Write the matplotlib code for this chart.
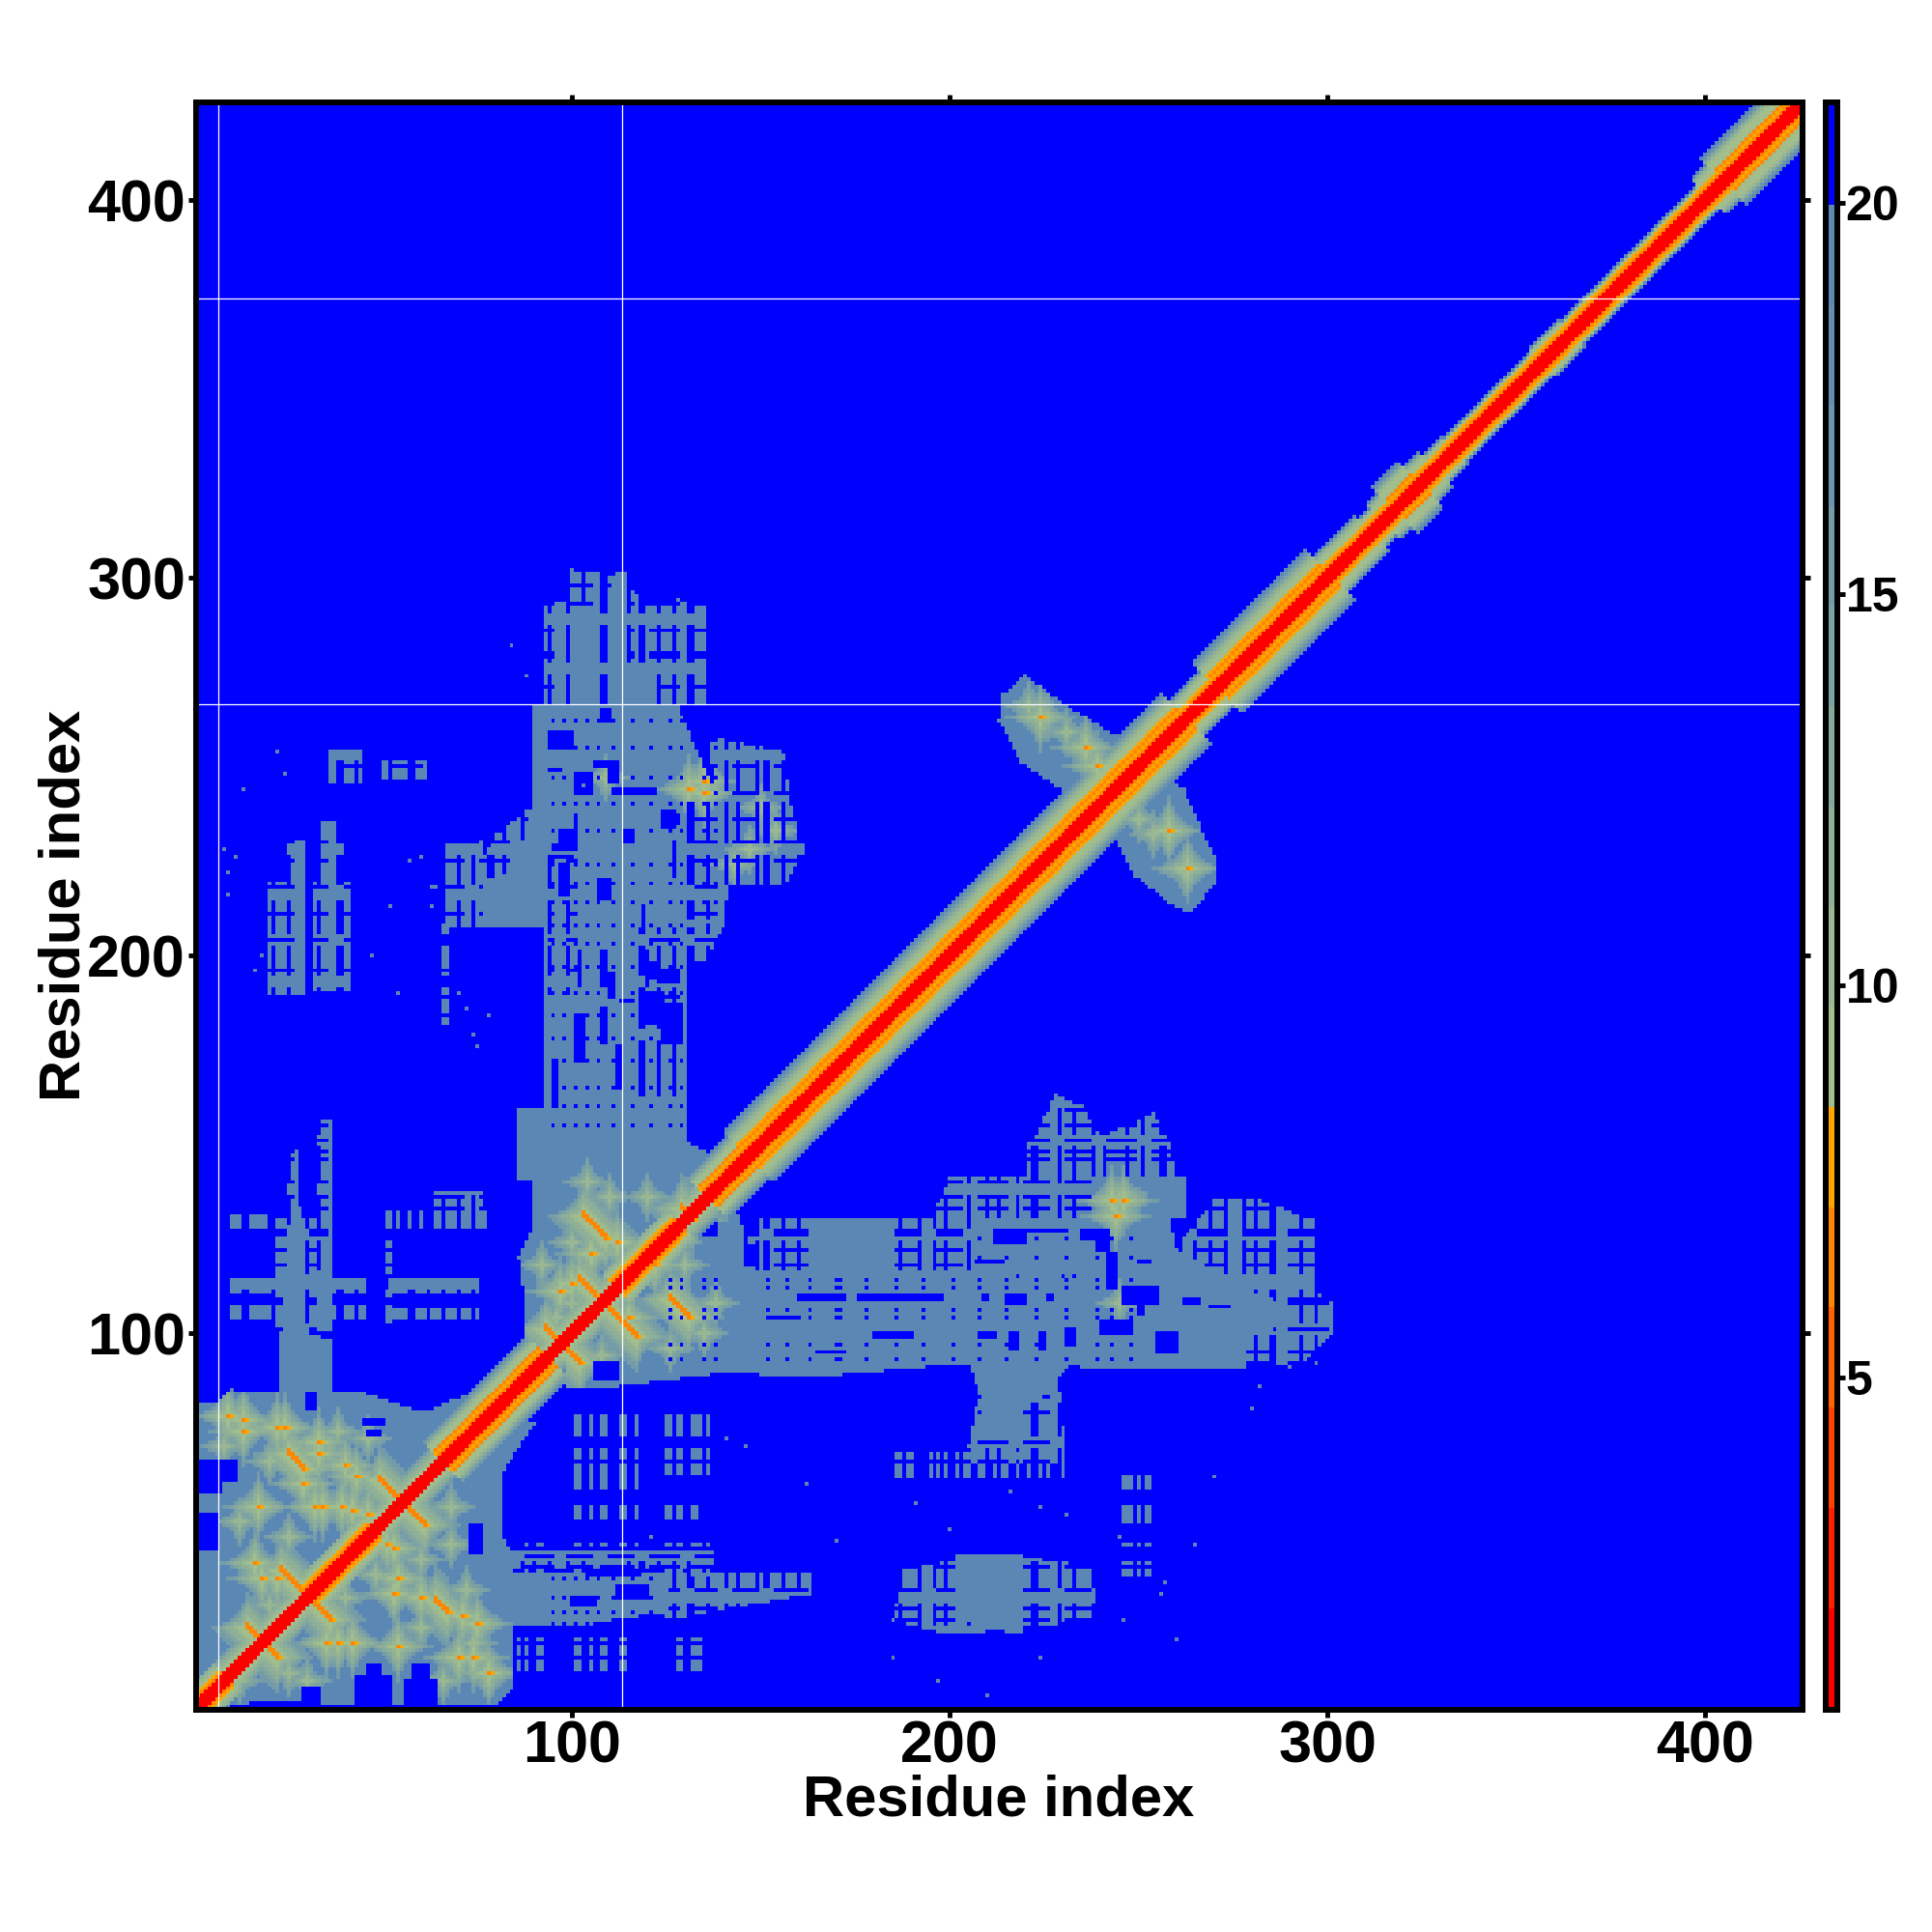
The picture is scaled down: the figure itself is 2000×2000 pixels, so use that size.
import numpy as np
import matplotlib
matplotlib.use('Agg')
import matplotlib.pyplot as plt
from matplotlib.colors import ListedColormap, BoundaryNorm
from matplotlib.path import Path

plt.rcParams['font.family'] = ['Liberation Sans', 'DejaVu Sans']
plt.rcParams['font.weight'] = 'bold'

n_res = 425
ticks_main = [100, 200, 300, 400]
ticks_bar = [5, 10, 15, 20]
levels = [0.75, 2.05, 3.33, 4.61, 5.89, 7.17, 8.45, 9.73, 11.01, 12.29, 13.57,
          14.85, 16.13, 17.41, 18.69, 19.97, 21.29]
colors = ['#FF0000', '#FF2100', '#FF4200', '#FF6300', '#FF8600', '#FFA500',
          '#A1BE8C', '#98B792', '#8FB097', '#86A99D', '#7DA2A3', '#749BA8',
          '#6B94AE', '#638DB2', '#5B87B5', '#0000FF']

# white gaps seen in the map
gap_cols = [6.3, 113.4]
gap_rows = [373.9, 266.6]

# distance values across the diagonal, by offset from it
profiles = {
    'narrow': [1.2, 1.2, 1.5, 6.5, 8.0, 9.5, 19],
    'neck': [1.2, 1.2, 1.5, 6.5, 7.8, 8.6, 10, 19],
    'dom': [1.2, 1.2, 1.5, 8.8, 10, 11.5, 13, 15, 19],
    'mid': [1.2, 1.2, 1.5, 6.5, 7.8, 8.6, 10, 12, 19],
    'lite': [1.2, 1.2, 1.5, 6.5, 7.8, 6.5, 8.6, 9.5, 11, 13, 16, 19],
    'edge': [1.2, 1.2, 1.5, 6.5, 7.8, 8.6, 9.5, 11, 13, 19],
    'blob': [1.2, 1.2, 1.5, 6.5, 7.8, 6.5, 8.6, 8.8, 9.5, 11, 13, 17, 19],
    'wide': [1.2, 1.2, 1.5, 6.5, 7.8, 6.5, 7.8, 8.6, 9.5, 10.5, 12, 14, 17, 19],
}
band_segments = [
    (1, 8, 'mid'), (9, 30, 'dom'), (31, 47, 'mid'), (48, 65, 'dom'), (66, 93, 'lite'),
    (94, 111, 'dom'), (112, 128, 'mid'), (129, 135, 'dom'), (136, 146, 'lite'), (147, 262, 'wide'),
    (263, 270, 'edge'), (271, 300, 'wide'), (301, 311, 'edge'), (312, 314, 'neck'), (315, 317, 'edge'),
    (318, 324, 'blob'), (325, 328, 'edge'), (329, 333, 'neck'), (334, 356, 'narrow'),
    (357, 364, 'neck'), (365, 400, 'narrow'), (401, 404, 'edge'), (405, 425, 'blob'),
]

# solid outlines of the contact regions (residue x, residue y)
solid_regions = [
    [(1, 1), (80, 1), (84, 6), (84, 42), (81, 47), (81, 62), (84, 67), (90, 76), (75, 85),
     (61, 79), (45, 84), (10, 85), (5, 81), (1, 81)],
    [(22, 84), (36, 84), (36, 98), (30, 100), (29, 128), (27, 138), (25, 128), (23, 100)],
    [(32, 100), (35.5, 100), (35.5, 125), (33.5, 125)],
    [(87, 88), (105, 85), (128, 88), (145, 90), (145, 128), (140, 146), (131, 150), (90, 150),
     (90, 128), (86, 120), (88, 105)],
    [(86, 140), (130, 140), (130, 159), (86, 159)],
    [(93, 150), (130, 150), (130, 207), (140, 210), (140, 238), (128, 266), (90, 266), (89, 238),
     (85, 222), (77, 220), (77, 207), (93, 207)],
    [(100, 266), (105.5, 266), (105.5, 292), (100, 292)],
    [(110, 266), (114, 266), (114, 301), (112, 301), (110, 295)],
    [(114, 266), (122, 266), (122, 276), (114, 276)],
    [(84, 22), (100, 22), (110, 24), (125, 26), (125, 36), (84, 37)],
    [(140, 90), (160, 88), (205, 92), (205, 116), (140, 116)],
    [(204, 92), (265, 90), (278, 91), (278, 100), (292, 102), (292, 106), (278, 112), (260, 122),
     (258, 130), (204, 130)],
    [(205, 92), (232, 92), (226, 84), (219, 80), (218, 72), (210, 72), (208, 84)],
    [(238, 130), (262, 130), (262, 141), (238, 141)],
    [(202, 24), (219, 20), (219, 41), (202, 41)],
    [(213, 262), (219, 251), (241, 236), (256, 250), (244, 258), (228, 268), (220, 274), (214, 269)],
    [(240, 238), (249, 221), (258, 214), (264, 211), (270, 219), (270, 226), (262, 244), (250, 250)],
]

# patchy areas, broken up by the hole columns and rows below
patchy_regions = [
    [(93, 266), (135, 266), (135, 292), (128, 294), (120, 292), (114, 298), (114, 300), (100, 302),
     (100, 294), (93, 293)],
    [(136, 258), (156, 254), (158, 240), (162, 228), (156, 218), (142, 218), (140, 225)],
    [(130, 219), (142, 219), (141, 210), (138, 203), (135, 198), (130, 198)],
    [(72, 208), (88, 208), (88, 238), (80, 232), (76, 225), (71, 220)],
    [(20, 189), (29, 189), (29, 230), (25, 230), (25, 219), (20, 219)],
    [(32, 190), (41, 190), (41, 219), (39, 219), (39, 235), (34, 235), (34, 219), (32, 219)],
    [(35, 245), (44, 245), (44, 254), (36, 254)],
    [(50, 246), (61, 246), (61, 251), (50, 251)],
    [(67, 207), (76, 207), (76, 229), (67, 229)],
    [(22, 100), (36, 100), (36, 130), (22, 130)],
    [(24, 130), (28, 130), (27, 148), (25, 148)],
    [(32, 125), (36, 125), (36, 156), (33, 156)],
    [(10, 103), (45, 103), (45, 107), (10, 107)],
    [(10, 110), (45, 110), (45, 114), (10, 114)],
    [(10, 127), (19, 127), (19, 131), (10, 131)],
    [(52, 103), (75, 103), (75, 106), (52, 106)],
    [(52, 110), (75, 110), (75, 114), (52, 114)],
    [(64, 127), (78, 127), (76, 137), (64, 137)],
    [(125, 24), (163, 31), (163, 36), (125, 37)],
    [(84, 37), (137, 37), (137, 42), (84, 42)],
    [(125, 90), (205, 116), (205, 130), (150, 130)],
    [(150, 116), (205, 116), (205, 130), (150, 130)],
    [(260, 91), (292, 91), (301, 100), (301, 108), (296, 112), (296, 130), (280, 136), (270, 135),
     (262, 125)],
    [(221, 130), (262, 130), (258, 150), (254, 158), (240, 152), (235, 160), (228, 163), (221, 150)],
    [(195, 130), (221, 130), (221, 141), (200, 141)],
    [(204, 65), (231, 65), (229, 86), (208, 86)],
    [(185, 24), (200, 20), (238, 24), (238, 38), (218, 41), (188, 38)],
]
hole_cols = [4, 9, 13, 14, 21, 25, 30, 33, 38, 39, 43, 47, 52, 57, 58, 62, 66, 70, 74, 78, 79,
             82, 87, 90, 94, 99, 103, 108, 109, 115, 118, 119, 123, 127, 131, 132, 136, 141, 144, 149,
             151, 152, 156, 160, 187, 192, 196, 199, 205, 210, 213, 218, 222, 223, 229, 233, 238,
             241, 247, 251, 256, 257, 265, 269, 273, 278, 281, 285, 286, 293, 297]
hole_rows = [4, 9, 14, 18, 24, 27, 32, 38, 41, 45, 49, 58, 66, 71, 79, 83, 92, 95, 101, 108, 109,
             118, 122, 126, 127, 133, 136, 140, 146, 148, 151, 155, 159, 184, 189, 196, 204, 211,
             218, 225, 230, 236, 243, 250, 257, 264, 271, 279, 280, 286, 293, 298]
# run edges: hole columns break only inside "on" rows, hole rows only inside "on" columns
row_runs = [1, 7, 11, 20, 23, 29, 33, 40, 44, 55, 58, 70, 73, 82, 85, 100, 103, 112, 116, 125, 128,
            137, 140, 150, 153, 160, 163, 178, 181, 192, 195, 203, 206, 215, 219, 227, 230, 241,
            244, 252, 255, 263, 266, 275, 278, 288, 291, 303]
col_runs = [1, 6, 12, 17, 20, 27, 31, 36, 40, 49, 53, 61, 64, 72, 76, 84, 88, 96, 99, 106, 110, 117,
            121, 129, 133, 139, 143, 150, 154, 163, 186, 193, 197, 204, 208, 216, 220, 227, 231,
            238, 242, 250, 254, 262, 266, 274, 278, 287, 290, 301]

# parts of the solid regions that the hole columns and rows also cut
cut_boxes = [(118, 130, 160, 207), (94, 101, 190, 226), (130, 140, 210, 240), (150, 205, 117, 130)]

# small single holes where a column of this list meets a row of the next
pin_boxes = [(93, 130, 150, 266), (125, 205, 92, 116), (204, 260, 92, 130), (84, 125, 22, 37),
             (130, 140, 210, 266)]
pin_cols = [95, 98, 101, 104, 107, 111, 116, 121, 126, 129, 135, 138, 152, 157, 163, 170, 171, 178, 186,
            193, 201, 208, 215, 223, 231, 239, 243, 248]
pin_rows = [23, 26, 30, 35, 93, 97, 104, 106, 112, 114, 120, 125, 155, 160, 165, 172, 178, 184,
            190, 197, 203, 208, 214, 219, 224, 233, 240, 247, 255, 262]

# thin scattered contacts: contact only on the listed columns, inside the row runs
sparse_boxes = [
    (100, 118, 52, 78), (124, 139, 63, 79), (99, 133, 51, 56), (85, 94, 10, 21), (100, 115, 10, 20),
    (127, 135, 10, 20), (185, 232, 62, 68), (246, 254, 50, 62), (246, 254, 36, 44), (66, 67, 182, 207),
    (50, 53, 100, 132), (50, 60, 125, 132), (88, 137, 36, 44),
]
sparse_cols = [51, 52, 54, 57, 60, 66, 67, 86, 88, 91, 92, 101, 102, 105, 108, 109, 113, 114, 117, 125,
               126, 128, 129, 132, 133, 134, 136, 186, 187, 189, 190, 195, 197, 199, 202, 204, 205, 208,
               209, 212, 214, 215, 218, 221, 224, 226, 230, 246, 247, 248, 250, 252, 253]

# clear blue patches inside the solid regions
hole_boxes = [
    (29, 33, 1, 6), (43, 52, 1, 9), (46, 49, 9, 12), (56, 64, 1, 8), (58, 62, 8, 12),
    (15, 29, 1, 2), (1, 6, 43, 52), (1, 11, 61, 66), (1, 7, 58, 60), (73, 76, 42, 49),
    (45, 50, 76, 77), (46, 49, 73, 74), (30, 32, 80, 84),
    (102, 102, 192, 201), (108, 109, 177, 186), (108, 109, 192, 201), (110, 111, 189, 195),
    (120, 120, 192, 201), (119, 119, 206, 213), (127, 127, 221, 230), (124, 127, 234, 238),
    (97, 101, 230, 233), (107, 110, 215, 220), (97, 99, 216, 224), (95, 101, 228, 229),
    (95, 100, 226, 226), (101, 101, 234, 237), (108, 110, 262, 265), (94, 100, 255, 259),
    (106, 112, 250, 251), (110, 112, 246, 250), (94, 97, 249, 249), (101, 105, 243, 248),
    (111, 122, 243, 244), (124, 128, 235, 237), (123, 128, 193, 195), (120, 122, 194, 198),
    (124, 129, 177, 187), (119, 124, 188, 190), (120, 123, 182, 187), (113, 116, 188, 188),
    (114, 116, 230, 233), (101, 103, 172, 184), (95, 96, 160, 172), (112, 113, 165, 176),
    (221, 231, 127, 127), (212, 220, 124, 127), (235, 238, 125, 127), (239, 242, 122, 127),
    (242, 244, 112, 121), (246, 255, 108, 112), (250, 251, 105, 108), (207, 214, 119, 119),
    (250, 253, 119, 119), (218, 218, 115, 115), (230, 230, 115, 115), (233, 233, 115, 115),
    (209, 210, 109, 110), (215, 220, 108, 110), (226, 227, 109, 110), (262, 266, 108, 109),
    (269, 274, 107, 107), (255, 260, 95, 100), (240, 248, 100, 103), (208, 212, 99, 100),
    (216, 218, 96, 100), (224, 225, 96, 100), (231, 233, 97, 101), (160, 172, 109, 110),
    (176, 198, 109, 110), (152, 160, 104, 104), (180, 190, 99, 100), (165, 172, 95, 95),
    (130, 138, 126, 130), (146, 149, 118, 123), (96, 98, 90, 92), (106, 112, 88, 92),
    (100, 106, 28, 30), (112, 120, 30, 33), (104, 118, 36, 37),
]

# single contact cells outside the regions
speck_x = [13, 11, 22, 24, 52, 60, 66, 54, 84, 96, 103, 88, 76, 63, 78, 191, 200, 216, 224, 231,
           245, 257, 265, 270, 185, 197, 210, 162, 170, 141, 146, 121, 280, 224, 246, 256, 260,
           8, 9, 9, 16, 18, 57, 63, 64, 47, 70, 72, 74, 75, 290, 297, 282]
speck_y = [244, 226, 254, 248, 213, 226, 208, 190, 282, 279, 245, 274, 230, 218, 184, 55, 48, 58, 54,
           52, 46, 34, 44, 62, 14, 8, 4, 60, 45, 72, 70, 46, 80, 14, 24, 31, 19,
           228, 222, 216, 196, 200, 225, 213, 218, 200, 190, 186, 179, 176, 91, 92, 86]

# contact streaks: start x, start y, length, running down-right across the diagonal
streaks = [
    (25, 68, 5), (49, 61, 13), (23, 37, 14), (14, 22, 9), (64, 29, 4), (103, 131, 7), (126, 109, 6),
    (102, 114, 5), (93, 101, 10), (109, 107, 9), (129, 133, 4),
]
# small contact spots with their soft halo
spot_x = [17, 54, 22, 24, 9, 13, 13, 70, 74, 78, 35, 38, 42, 16, 18, 22, 71, 75, 53, 51, 54, 53,
          60, 42, 39, 46, 29, 32, 34, 43, 33, 33, 40, 105, 122, 100, 97, 112, 115,
          243, 246, 244, 131, 135, 135, 224, 236, 239, 258, 263]
spot_y = [54, 17, 75, 75, 78, 77, 74, 14, 14, 10, 18, 18, 18, 39, 35, 35, 25, 23, 43, 44, 35, 31,
          30, 53, 54, 52, 60, 54, 54, 62, 71, 68, 65, 121, 118, 113, 111, 124, 104,
          135, 135, 131, 244, 246, 243, 263, 255, 250, 233, 223]
# greener areas without an orange centre
soft_x = [8, 20, 30, 38, 46, 12, 25, 42, 60, 68, 74, 66, 30, 40, 12, 25, 60, 72, 68, 20, 48,
          92, 100, 110, 120, 130, 135, 96, 108, 126, 138, 104, 116, 128, 100,
          245, 246, 109, 150, 154, 147, 143, 236, 226, 231, 221, 250, 254, 262, 246, 408, 320]
soft_y = [70, 66, 64, 74, 72, 50, 46, 42, 40, 44, 18, 8, 8, 30, 8, 10, 22, 32, 54, 28, 36,
          118, 124, 136, 136, 118, 100, 104, 94, 96, 108, 140, 118, 124, 108,
          108, 137, 247, 239, 233, 228, 224, 255, 263, 259, 266, 236, 232, 222, 240, 397, 312]
# halo value by distance from a contact
halo_steps = [8.7, 9.4, 10.4, 11.4, 12.6, 14, 16]
soft_steps = [10.4, 11.4, 12.6, 14, 16]

# distance matrix built from the lists above
xx, yy = np.meshgrid(np.arange(1, n_res + 1), np.arange(1, n_res + 1))
cells = np.column_stack([xx.ravel(), yy.ravel()])
dist = np.full(xx.shape, 20.5)


def in_box(b):
    return (xx >= b[0]) & (xx <= b[1]) & (yy >= b[2]) & (yy <= b[3])


for outline in solid_regions:
    dist[Path(outline).contains_points(cells).reshape(xx.shape)] = 19

on_rows = np.searchsorted(row_runs, yy, side='right') % 2 == 1
on_cols = np.searchsorted(col_runs, xx, side='right') % 2 == 1
broken = (np.isin(xx, hole_cols) & on_rows) | (np.isin(yy, hole_rows) & on_cols)
for outline in patchy_regions:
    inside = Path(outline).contains_points(cells).reshape(xx.shape)
    dist[inside & ~broken] = 19
for b in cut_boxes:
    dist[in_box(b) & broken] = 20.5

pins = np.isin(xx, pin_cols) & np.isin(yy, pin_rows)
for b in pin_boxes:
    dist[in_box(b) & pins] = 20.5

thin = np.isin(xx, sparse_cols) & on_rows & ~np.isin(yy, hole_rows)
for b in sparse_boxes:
    dist[in_box(b) & thin] = 19
for b in hole_boxes:
    dist[in_box(b)] = 20.5
for sx, sy in zip(speck_x, speck_y):
    dist[sy - 1, sx - 1] = 19


def add_halo(x, y, steps):
    # soft reach around a contact, a little longer along its row and column
    d = (np.abs(xx - x) ** 0.7 + np.abs(yy - y) ** 0.7) ** (1 / 0.7) / 1.3
    for step, v in enumerate(steps):
        m = (np.floor(d) == step) & (dist < 20) & (dist > v)
        dist[m] = v


for sx, sy in zip(soft_x, soft_y):
    add_halo(sx, sy, soft_steps)
for sx, sy in zip(spot_x, spot_y):
    add_halo(sx, sy, halo_steps)
for sx, sy, length in streaks:
    for k in range(length):
        add_halo(sx + k, sy - k, halo_steps)
for sx, sy in zip(spot_x, spot_y):
    dist[sy - 1, sx - 1] = 6.5
    dist[sy - 1, sx] = 7.5
for sx, sy, length in streaks:
    for k in range(length):
        dist[sy - k - 1, sx + k - 1] = 6.5
        dist[sy - k - 1, sx + k] = 7.5
        dist[sy - k, sx + k - 1] = 6.5

mid = (xx + yy) // 2
off = np.abs(xx - yy)
for start, end, name in band_segments:
    for k, v in enumerate(profiles[name]):
        m = (mid >= start) & (mid <= end) & (off == k) & (dist > v)
        dist[m] = v

cmap = ListedColormap(colors)
norm = BoundaryNorm(levels, cmap.N)

fig = plt.figure(figsize=(20, 20), dpi=100)
ax = fig.add_axes([202.5 / 2000, 1 - 1770 / 2000, 1663 / 2000, 1664.5 / 2000])
ax.imshow(dist, origin='lower', extent=(0.5, n_res + 0.5, 0.5, n_res + 0.5), cmap=cmap, norm=norm,
          interpolation='nearest', aspect='auto')
ax.set_xlim(0.36, 425.7)
ax.set_ylim(0.26, 426)
for c in gap_cols:
    ax.axvline(c, color='white', lw=0.9)
for r in gap_rows:
    ax.axhline(r, color='white', lw=0.9)

ax.set_xticks(ticks_main)
ax.set_yticks(ticks_main)
ax.tick_params(top=True, right=True, length=5.5, width=3.5, labelsize=44, pad=2)
ax.set_xlabel('Residue index', fontsize=43, fontweight='bold', labelpad=-1)
ax.set_ylabel('Residue index', fontsize=43, fontweight='bold', labelpad=-3)
for s in ax.spines.values():
    s.set_linewidth(4.3)

# colour key
cax = fig.add_axes([1889.5 / 2000, 1 - 1770 / 2000, 12 / 2000, 1664.5 / 2000])
cax.pcolormesh([0, 1], levels, np.array(levels[:-1]).reshape(-1, 1) + 0.01, cmap=cmap, norm=norm)
cax.set_xticks([])
cax.yaxis.tick_right()
cax.set_yticks(ticks_bar)
cax.set_ylim(levels[0], levels[-1])
cax.tick_params(axis='y', length=5.5, width=3.5, labelsize=36, pad=1)
for s in cax.spines.values():
    s.set_linewidth(4.3)

fig.savefig('out.png', dpi=100, facecolor='white')
